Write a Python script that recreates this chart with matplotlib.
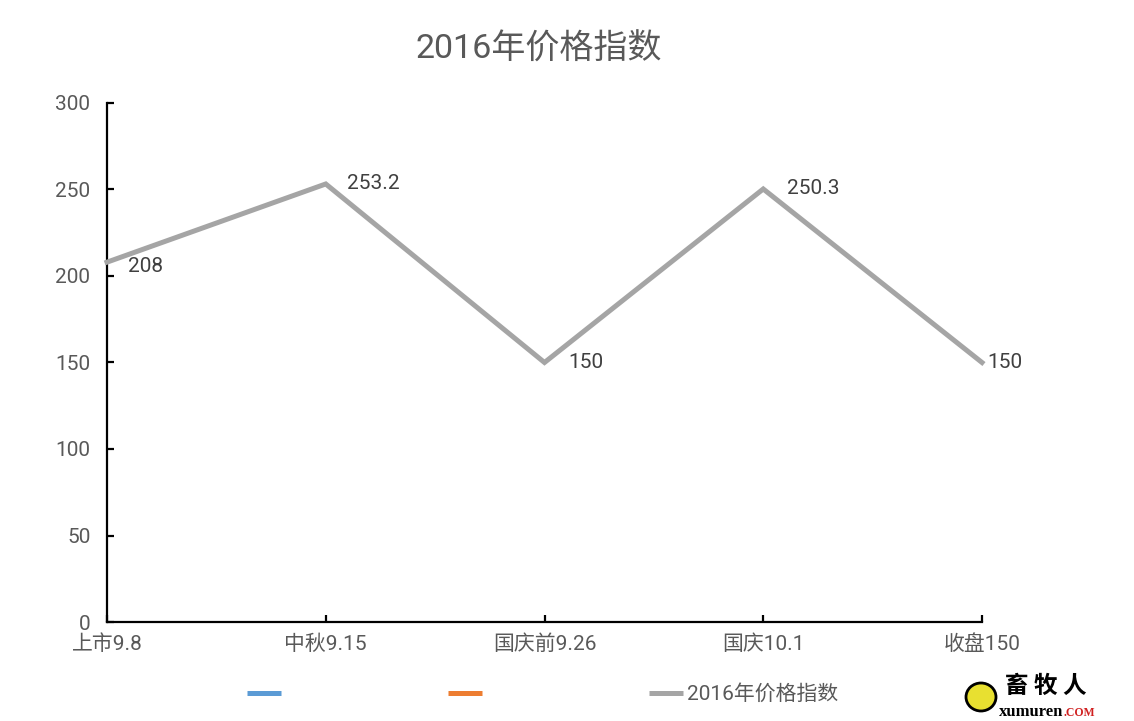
import matplotlib
matplotlib.use("Agg")
import matplotlib.pyplot as plt
from matplotlib.lines import Line2D
from matplotlib.patches import Ellipse

plt.rcParams['font.family'] = ['Roboto', 'Noto Sans CJK SC', 'DejaVu Sans']

categories = ['上市9.8', '中秋9.15', '国庆前9.26', '国庆10.1', '收盘150']
values = [208, 253.2, 150, 250.3, 150]
value_labels = ['208', '253.2', '150', '250.3', '150']
series_name = '2016年价格指数'
title = '2016年价格指数'
yticks = [0, 50, 100, 150, 200, 250, 300]

W, H = 1134, 721
fig = plt.figure(figsize=(W / 100, H / 100), dpi=100)
ax = fig.add_axes([107 / W, 1 - 622 / H, (982 - 107) / W, (622 - 103) / H])

x = list(range(len(categories)))
ax.plot(x, values, color='#A5A5A5', lw=3.6, solid_joinstyle='miter', clip_on=False, zorder=3)

label_dx = [15, 15, 17, 17, 4]  # points
label_dy = [-3, 0, 0, 0, 0]
for xi, v, s, dx, dy in zip(x, values, value_labels, label_dx, label_dy):
    ax.annotate(s, (xi, v), xytext=(dx, dy), textcoords='offset points',
                ha='left', va='center', fontsize=15, color='#404040')

ax.set_xlim(0, len(categories) - 1)
ax.set_ylim(0, 300)
ax.set_yticks(yticks)
ax.set_xticks(x)
ax.set_xticklabels(categories)
for s in ['top', 'right']:
    ax.spines[s].set_visible(False)
for s in ['left', 'bottom']:
    ax.spines[s].set_linewidth(1.6)
    ax.spines[s].set_color('black')
ax.tick_params(axis='y', direction='in', length=5, width=1.6, pad=12,
               labelsize=15, labelcolor='#595959')
ax.tick_params(axis='x', direction='in', length=5, width=1.6, pad=9,
               labelsize=15, labelcolor='#595959')

fig.text(539 / W, 1 - 50 / H, title, ha='center', va='center', fontsize=24.5, color='#595959')

handles = [Line2D([], [], color='#5B9BD5', lw=3.6, solid_capstyle='butt'),
           Line2D([], [], color='#ED7D31', lw=3.6, solid_capstyle='butt'),
           Line2D([], [], color='#A5A5A5', lw=3.6, solid_capstyle='butt')]
leg = fig.legend(handles, ['', '', series_name], loc='center left',
                 bbox_to_anchor=(247 / W, 1 - 694 / H), ncol=3, frameon=False,
                 fontsize=15, handlelength=1.65, handletextpad=0.15,
                 columnspacing=7.85, borderaxespad=0, borderpad=0)
for t in leg.get_texts():
    t.set_color('#595959')

# watermark logo
fig.patches.append(Ellipse((981 / W, 1 - 697 / H), 30 / W, 28 / H, transform=fig.transFigure,
                           facecolor='#E8E030', edgecolor='black', lw=2))
fig.text(1005 / W, 1 - 686 / H, '畜 牧 人', ha='left', va='center', fontsize=17,
         fontweight='bold', color='black', family=['Noto Sans CJK SC'])
fig.text(999 / W, 1 - 712 / H, 'xumuren', ha='left', va='center', fontsize=12,
         fontweight='bold', color='black', family=['Liberation Serif'])
fig.text(1064 / W, 1 - 713 / H, '.COM', ha='left', va='center', fontsize=8.5,
         fontweight='bold', color='#D02020', family=['Liberation Serif'])

fig.savefig('out.png', dpi=100, facecolor='white')
